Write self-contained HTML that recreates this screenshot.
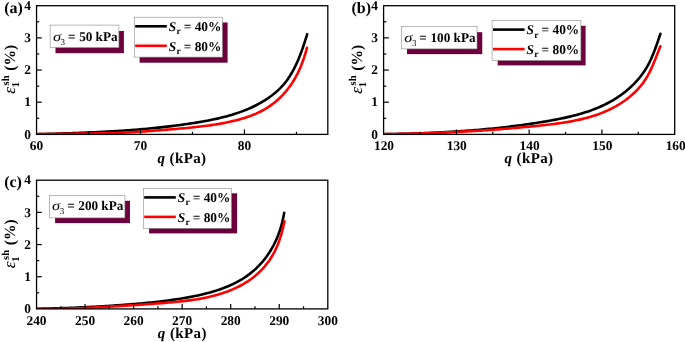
<!DOCTYPE html>
<html><head><meta charset="utf-8"><title>chart</title>
<style>
html,body{margin:0;padding:0;background:#fff;}
svg{display:block;font-family:"Liberation Serif", serif;will-change:transform;}
text{fill:#000;text-rendering:geometricPrecision;}
</style></head>
<body>
<svg width="685" height="342" viewBox="0 0 685 342">
<rect x="0" y="0" width="685" height="342" fill="#fff"/>
<rect x="55.5" y="31.0" width="68.40" height="22.20" fill="#6d003c"/>
<rect x="50.1" y="25.1" width="68.80" height="22.50" fill="#fff" stroke="#8a8a8a" stroke-width="0.6"/>
<text transform="translate(53.00,40.8) scale(1.22,1)" x="0" y="0" font-size="13.5" font-style="italic">σ</text>
<text x="60.60" y="44.70" font-size="9">3</text>
<text x="68.05" y="40.8" font-size="13.2" font-weight="bold">=</text>
<text x="79.20" y="40.8" font-size="13.2" font-weight="bold">50</text>
<text x="95.60" y="40.8" font-size="13.2" font-weight="bold">kPa</text>
<rect x="139.6" y="22.5" width="88.00" height="40.20" fill="#6d003c"/>
<rect x="134.3" y="17.2" width="88.10" height="39.90" fill="#fff" stroke="#8a8a8a" stroke-width="0.6"/>
<line x1="135.20" y1="26.30" x2="166.80" y2="26.30" stroke="#000" stroke-width="2.6"/>
<text x="168.70" y="31.10" font-size="13.4" font-weight="bold" font-style="italic">S</text>
<text x="176.50" y="34.30" font-size="9.5" font-weight="bold">r</text>
<text x="183.70" y="31.10" font-size="13.4" font-weight="bold">= 40%</text>
<line x1="135.20" y1="45.80" x2="166.80" y2="45.80" stroke="#f00" stroke-width="2.6"/>
<text x="168.70" y="50.60" font-size="13.4" font-weight="bold" font-style="italic">S</text>
<text x="176.50" y="53.80" font-size="9.5" font-weight="bold">r</text>
<text x="183.70" y="50.60" font-size="13.4" font-weight="bold">= 80%</text>
<clipPath id="clipa"><rect x="36.55" y="5.7" width="291.25" height="128.70"/></clipPath>
<g clip-path="url(#clipa)">
<polyline points="36.70,134.20 38.95,134.13 41.21,134.07 43.46,134.01 45.71,133.94 47.97,133.88 50.22,133.81 52.47,133.75 54.73,133.68 56.98,133.61 59.24,133.55 61.49,133.48 63.74,133.41 66.00,133.33 68.25,133.26 70.50,133.18 72.76,133.10 75.01,133.03 77.26,132.94 79.52,132.86 81.77,132.77 84.02,132.69 86.27,132.59 88.53,132.50 90.78,132.40 93.03,132.31 95.28,132.20 97.54,132.10 99.79,131.99 102.04,131.88 104.29,131.76 106.54,131.64 108.79,131.52 111.04,131.39 113.30,131.26 115.55,131.13 117.80,130.99 120.05,130.85 122.30,130.70 124.55,130.55 126.79,130.39 129.04,130.23 131.29,130.07 133.54,129.89 135.79,129.72 138.03,129.54 140.28,129.35 142.53,129.16 144.77,128.96 147.02,128.76 149.26,128.55 151.51,128.33 153.75,128.11 155.99,127.88 158.24,127.65 160.48,127.41 162.72,127.16 164.96,126.91 167.20,126.65 169.44,126.38 171.68,126.11 173.91,125.83 176.15,125.54 178.38,125.25 180.62,124.95 182.85,124.64 185.08,124.32 187.31,123.99 189.54,123.66 191.77,123.32 194.00,122.97 196.23,122.61 198.45,122.25 200.67,121.87 202.89,121.48 205.11,121.08 207.33,120.67 209.54,120.24 211.75,119.80 213.96,119.34 216.16,118.86 218.36,118.36 220.56,117.85 222.75,117.31 224.93,116.76 227.11,116.18 229.28,115.57 231.45,114.94 233.60,114.28 235.75,113.60 237.89,112.88 240.02,112.14 242.13,111.37 244.24,110.56 246.33,109.72 248.41,108.85 250.47,107.94 252.52,107.00 254.55,106.02 256.56,105.00 258.55,103.95 260.53,102.86 262.48,101.72 264.40,100.55 266.30,99.34 268.18,98.09 270.02,96.79 271.83,95.45 273.61,94.07 275.36,92.64 277.06,91.17 278.72,89.64 280.33,88.06 281.89,86.44 283.40,84.76 284.85,83.04 286.24,81.26 287.57,79.45 288.85,77.59 290.07,75.70 291.24,73.77 292.37,71.82 293.44,69.84 294.48,67.83 295.48,65.81 296.44,63.77 297.37,61.72 298.26,59.65 299.13,57.57 299.96,55.47 300.78,53.37 301.56,51.26 302.33,49.14 303.07,47.01 303.79,44.87 304.50,42.73 305.19,40.59 305.87,38.44 306.54,36.29 307.20,34.13" fill="none" stroke="#000" stroke-width="2.6" stroke-linecap="round" stroke-linejoin="round"/>
<polyline points="36.70,134.20 38.91,134.17 41.13,134.14 43.34,134.11 45.55,134.08 47.77,134.05 49.98,134.01 52.20,133.98 54.41,133.95 56.62,133.92 58.84,133.89 61.05,133.86 63.26,133.83 65.48,133.80 67.69,133.77 69.90,133.74 72.12,133.71 74.33,133.68 76.54,133.65 78.76,133.62 80.97,133.58 83.19,133.55 85.40,133.52 87.61,133.49 89.83,133.46 92.04,133.43 94.25,133.40 96.47,133.37 98.68,133.34 100.89,133.30 103.11,133.27 105.32,133.23 107.53,133.18 109.75,133.13 111.96,133.07 114.17,133.01 116.39,132.94 118.60,132.86 120.81,132.77 123.02,132.67 125.23,132.57 127.44,132.45 129.65,132.33 131.86,132.21 134.07,132.08 136.28,131.94 138.49,131.80 140.70,131.65 142.91,131.50 145.12,131.34 147.33,131.19 149.53,131.02 151.74,130.86 153.95,130.70 156.16,130.53 158.36,130.36 160.57,130.19 162.78,130.02 164.99,129.85 167.19,129.67 169.40,129.50 171.61,129.32 173.81,129.14 176.02,128.95 178.22,128.76 180.43,128.57 182.63,128.37 184.84,128.17 187.04,127.96 189.25,127.74 191.45,127.52 193.65,127.30 195.85,127.06 198.05,126.82 200.25,126.57 202.45,126.31 204.65,126.03 206.84,125.75 209.04,125.45 211.23,125.14 213.42,124.82 215.60,124.48 217.79,124.12 219.97,123.75 222.15,123.36 224.32,122.95 226.50,122.52 228.66,122.06 230.83,121.59 232.98,121.10 235.14,120.58 237.28,120.03 239.42,119.46 241.55,118.85 243.67,118.22 245.78,117.55 247.88,116.84 249.96,116.10 252.03,115.32 254.08,114.49 256.12,113.62 258.13,112.70 260.12,111.73 262.09,110.72 264.03,109.65 265.94,108.53 267.81,107.36 269.66,106.13 271.47,104.86 273.24,103.53 274.97,102.16 276.67,100.73 278.32,99.26 279.94,97.75 281.51,96.19 283.04,94.60 284.53,92.96 285.98,91.28 287.38,89.57 288.73,87.82 290.04,86.04 291.31,84.22 292.53,82.37 293.70,80.50 294.83,78.59 295.91,76.66 296.95,74.70 297.94,72.73 298.89,70.73 299.80,68.71 300.67,66.68 301.51,64.63 302.30,62.56 303.06,60.48 303.79,58.39 304.48,56.29 305.14,54.18 305.78,52.06 306.40,49.93 307.00,47.80" fill="none" stroke="#f00" stroke-width="2.6" stroke-linecap="round" stroke-linejoin="round"/>
</g>
<rect x="36.55" y="5.7" width="291.25" height="128.70" fill="none" stroke="#000" stroke-width="1.3"/>
<text x="30.85" y="138.60" font-size="13.4" font-weight="bold" text-anchor="end">0</text>
<line x1="36.55" y1="102.22" x2="41.75" y2="102.22" stroke="#000" stroke-width="1.2"/>
<text x="30.85" y="106.42" font-size="13.4" font-weight="bold" text-anchor="end">1</text>
<line x1="36.55" y1="70.05" x2="41.75" y2="70.05" stroke="#000" stroke-width="1.2"/>
<text x="30.85" y="74.25" font-size="13.4" font-weight="bold" text-anchor="end">2</text>
<line x1="36.55" y1="37.88" x2="41.75" y2="37.88" stroke="#000" stroke-width="1.2"/>
<text x="30.85" y="42.08" font-size="13.4" font-weight="bold" text-anchor="end">3</text>
<text x="30.85" y="9.50" font-size="13.4" font-weight="bold" text-anchor="end">4</text>
<line x1="36.55" y1="118.31" x2="39.25" y2="118.31" stroke="#000" stroke-width="1.2"/>
<line x1="36.55" y1="86.14" x2="39.25" y2="86.14" stroke="#000" stroke-width="1.2"/>
<line x1="36.55" y1="53.96" x2="39.25" y2="53.96" stroke="#000" stroke-width="1.2"/>
<line x1="36.55" y1="21.79" x2="39.25" y2="21.79" stroke="#000" stroke-width="1.2"/>
<text x="36.45" y="150.10" font-size="13.4" font-weight="bold" text-anchor="middle">60</text>
<line x1="140.45" y1="134.4" x2="140.45" y2="129.4" stroke="#000" stroke-width="1.2"/>
<text x="140.45" y="150.10" font-size="13.4" font-weight="bold" text-anchor="middle">70</text>
<line x1="244.45" y1="134.4" x2="244.45" y2="129.4" stroke="#000" stroke-width="1.2"/>
<text x="244.45" y="150.10" font-size="13.4" font-weight="bold" text-anchor="middle">80</text>
<line x1="88.45" y1="134.4" x2="88.45" y2="131.8" stroke="#000" stroke-width="1.2"/>
<line x1="192.45" y1="134.4" x2="192.45" y2="131.8" stroke="#000" stroke-width="1.2"/>
<line x1="296.45" y1="134.4" x2="296.45" y2="131.8" stroke="#000" stroke-width="1.2"/>
<text x="4.2" y="13.2" font-size="16" font-weight="bold">(a)</text>
<text x="182.0" y="162.5" font-size="15" font-weight="bold" text-anchor="middle" letter-spacing="0.4"><tspan font-style="italic">q</tspan> (kPa)</text>
<g transform="translate(15.35,94.0) rotate(-90)" font-weight="bold"><text x="0.3" y="0" font-size="17" font-style="italic" font-weight="normal">ε</text><text x="6.8" y="3.5" font-size="10.5">1</text><text x="8.6" y="-6.6" font-size="10.5">sh</text><text x="23.3" y="0" font-size="15.5">(%)</text></g>
<rect x="407.0" y="32.2" width="75.25" height="21.95" fill="#6d003c"/>
<rect x="401.5" y="26.6" width="75.50" height="22.30" fill="#fff" stroke="#8a8a8a" stroke-width="0.6"/>
<text transform="translate(404.30,42.0) scale(1.22,1)" x="0" y="0" font-size="13.5" font-style="italic">σ</text>
<text x="411.90" y="45.90" font-size="9">3</text>
<text x="419.35" y="42.0" font-size="13.2" font-weight="bold">=</text>
<text x="430.50" y="42.0" font-size="13.2" font-weight="bold">100</text>
<text x="453.55" y="42.0" font-size="13.2" font-weight="bold">kPa</text>
<rect x="497.7" y="25.8" width="87.90" height="39.60" fill="#6d003c"/>
<rect x="492.1" y="20.5" width="88.80" height="40.00" fill="#fff" stroke="#8a8a8a" stroke-width="0.6"/>
<line x1="493.00" y1="29.60" x2="524.60" y2="29.60" stroke="#000" stroke-width="2.6"/>
<text x="526.50" y="34.40" font-size="13.4" font-weight="bold" font-style="italic">S</text>
<text x="534.30" y="37.60" font-size="9.5" font-weight="bold">r</text>
<text x="541.50" y="34.40" font-size="13.4" font-weight="bold">= 40%</text>
<line x1="493.00" y1="49.10" x2="524.60" y2="49.10" stroke="#f00" stroke-width="2.6"/>
<text x="526.50" y="53.90" font-size="13.4" font-weight="bold" font-style="italic">S</text>
<text x="534.30" y="57.10" font-size="9.5" font-weight="bold">r</text>
<text x="541.50" y="53.90" font-size="13.4" font-weight="bold">= 80%</text>
<clipPath id="clipb"><rect x="383.6" y="5.7" width="291.10" height="128.70"/></clipPath>
<g clip-path="url(#clipb)">
<polyline points="383.70,134.20 385.98,134.17 388.27,134.13 390.55,134.09 392.84,134.05 395.12,134.01 397.40,133.96 399.69,133.91 401.97,133.86 404.25,133.81 406.54,133.75 408.82,133.68 411.11,133.62 413.39,133.55 415.67,133.47 417.95,133.40 420.24,133.32 422.52,133.23 424.80,133.15 427.09,133.05 429.37,132.96 431.65,132.86 433.93,132.76 436.21,132.65 438.50,132.54 440.78,132.42 443.06,132.30 445.34,132.17 447.62,132.04 449.90,131.91 452.18,131.77 454.46,131.63 456.74,131.48 459.02,131.33 461.30,131.17 463.58,131.01 465.85,130.84 468.13,130.67 470.41,130.50 472.69,130.31 474.96,130.13 477.24,129.94 479.52,129.74 481.79,129.54 484.07,129.33 486.34,129.11 488.61,128.90 490.89,128.67 493.16,128.44 495.43,128.20 497.70,127.96 499.97,127.72 502.24,127.46 504.51,127.20 506.78,126.94 509.05,126.67 511.32,126.39 513.59,126.11 515.85,125.82 518.12,125.53 520.38,125.23 522.64,124.92 524.91,124.60 527.17,124.28 529.43,123.96 531.69,123.62 533.95,123.29 536.21,122.94 538.46,122.59 540.72,122.23 542.97,121.86 545.23,121.49 547.48,121.10 549.73,120.71 551.98,120.31 554.23,119.90 556.47,119.47 558.71,119.04 560.95,118.59 563.19,118.12 565.42,117.64 567.65,117.14 569.87,116.62 572.09,116.08 574.31,115.52 576.52,114.94 578.72,114.33 580.91,113.70 583.10,113.04 585.28,112.36 587.45,111.65 589.61,110.91 591.76,110.13 593.90,109.33 596.02,108.49 598.14,107.63 600.23,106.72 602.32,105.78 604.38,104.80 606.43,103.79 608.45,102.74 610.46,101.64 612.44,100.51 614.40,99.34 616.34,98.13 618.25,96.88 620.14,95.59 621.99,94.26 623.82,92.88 625.61,91.47 627.37,90.02 629.10,88.53 630.80,86.99 632.45,85.42 634.07,83.81 635.65,82.16 637.19,80.47 638.68,78.74 640.12,76.97 641.52,75.17 642.87,73.32 644.16,71.44 645.41,69.53 646.60,67.58 647.73,65.59 648.81,63.58 649.85,61.55 650.83,59.49 651.77,57.40 652.67,55.30 653.54,53.19 654.37,51.06 655.17,48.93 655.96,46.78 656.72,44.63 657.47,42.47 658.21,40.31 658.94,38.14 659.66,35.98 660.39,33.81" fill="none" stroke="#000" stroke-width="2.6" stroke-linecap="round" stroke-linejoin="round"/>
<polyline points="383.70,134.19 385.94,134.16 388.19,134.12 390.44,134.08 392.68,134.04 394.93,134.00 397.17,133.96 399.42,133.91 401.67,133.86 403.91,133.81 406.16,133.76 408.40,133.70 410.65,133.65 412.89,133.59 415.14,133.53 417.39,133.46 419.63,133.40 421.88,133.33 424.12,133.26 426.37,133.18 428.61,133.11 430.86,133.03 433.10,132.95 435.35,132.86 437.59,132.78 439.84,132.69 442.08,132.60 444.33,132.50 446.57,132.40 448.81,132.30 451.06,132.20 453.30,132.09 455.55,131.99 457.79,131.87 460.03,131.76 462.28,131.64 464.52,131.52 466.76,131.40 469.00,131.27 471.25,131.14 473.49,131.01 475.73,130.88 477.97,130.74 480.22,130.60 482.46,130.45 484.70,130.30 486.94,130.15 489.18,130.00 491.42,129.84 493.66,129.68 495.90,129.51 498.14,129.34 500.38,129.17 502.62,129.00 504.86,128.82 507.10,128.64 509.34,128.45 511.58,128.26 513.82,128.07 516.05,127.88 518.29,127.68 520.53,127.47 522.77,127.27 525.00,127.06 527.24,126.84 529.47,126.63 531.71,126.41 533.94,126.18 536.18,125.95 538.41,125.72 540.65,125.48 542.88,125.24 545.11,124.99 547.35,124.74 549.58,124.48 551.81,124.21 554.04,123.93 556.26,123.64 558.49,123.34 560.71,123.03 562.94,122.70 565.16,122.35 567.37,121.99 569.59,121.61 571.80,121.21 574.00,120.79 576.21,120.35 578.40,119.89 580.59,119.39 582.78,118.88 584.96,118.33 587.13,117.76 589.30,117.16 591.45,116.52 593.59,115.85 595.73,115.15 597.85,114.42 599.96,113.65 602.06,112.84 604.14,111.99 606.20,111.10 608.25,110.18 610.27,109.21 612.28,108.21 614.27,107.16 616.23,106.07 618.17,104.94 620.08,103.76 621.97,102.54 623.83,101.28 625.66,99.98 627.45,98.63 629.22,97.24 630.94,95.80 632.63,94.32 634.28,92.79 635.89,91.22 637.45,89.61 638.96,87.95 640.42,86.24 641.83,84.49 643.18,82.70 644.47,80.86 645.70,78.98 646.88,77.07 648.00,75.12 649.07,73.15 650.08,71.14 651.05,69.12 651.99,67.08 652.89,65.02 653.76,62.95 654.61,60.87 655.45,58.78 656.27,56.70 657.09,54.60 657.91,52.51 658.72,50.42 659.54,48.32 660.35,46.23" fill="none" stroke="#f00" stroke-width="2.6" stroke-linecap="round" stroke-linejoin="round"/>
</g>
<rect x="383.6" y="5.7" width="291.10" height="128.70" fill="none" stroke="#000" stroke-width="1.3"/>
<text x="377.90" y="138.60" font-size="13.4" font-weight="bold" text-anchor="end">0</text>
<line x1="383.6" y1="102.22" x2="388.8" y2="102.22" stroke="#000" stroke-width="1.2"/>
<text x="377.90" y="106.42" font-size="13.4" font-weight="bold" text-anchor="end">1</text>
<line x1="383.6" y1="70.05" x2="388.8" y2="70.05" stroke="#000" stroke-width="1.2"/>
<text x="377.90" y="74.25" font-size="13.4" font-weight="bold" text-anchor="end">2</text>
<line x1="383.6" y1="37.88" x2="388.8" y2="37.88" stroke="#000" stroke-width="1.2"/>
<text x="377.90" y="42.08" font-size="13.4" font-weight="bold" text-anchor="end">3</text>
<text x="377.90" y="9.50" font-size="13.4" font-weight="bold" text-anchor="end">4</text>
<line x1="383.6" y1="118.31" x2="386.3" y2="118.31" stroke="#000" stroke-width="1.2"/>
<line x1="383.6" y1="86.14" x2="386.3" y2="86.14" stroke="#000" stroke-width="1.2"/>
<line x1="383.6" y1="53.96" x2="386.3" y2="53.96" stroke="#000" stroke-width="1.2"/>
<line x1="383.6" y1="21.79" x2="386.3" y2="21.79" stroke="#000" stroke-width="1.2"/>
<text x="384.00" y="150.10" font-size="13.4" font-weight="bold" text-anchor="middle">120</text>
<line x1="456.38" y1="134.4" x2="456.38" y2="129.4" stroke="#000" stroke-width="1.2"/>
<text x="456.77" y="150.10" font-size="13.4" font-weight="bold" text-anchor="middle">130</text>
<line x1="529.15" y1="134.4" x2="529.15" y2="129.4" stroke="#000" stroke-width="1.2"/>
<text x="529.55" y="150.10" font-size="13.4" font-weight="bold" text-anchor="middle">140</text>
<line x1="601.92" y1="134.4" x2="601.92" y2="129.4" stroke="#000" stroke-width="1.2"/>
<text x="602.32" y="150.10" font-size="13.4" font-weight="bold" text-anchor="middle">150</text>
<text x="675.70" y="150.10" font-size="13.4" font-weight="bold" text-anchor="middle">160</text>
<line x1="419.99" y1="134.4" x2="419.99" y2="131.8" stroke="#000" stroke-width="1.2"/>
<line x1="492.76" y1="134.4" x2="492.76" y2="131.8" stroke="#000" stroke-width="1.2"/>
<line x1="565.54" y1="134.4" x2="565.54" y2="131.8" stroke="#000" stroke-width="1.2"/>
<line x1="638.31" y1="134.4" x2="638.31" y2="131.8" stroke="#000" stroke-width="1.2"/>
<text x="351.5" y="13.2" font-size="16" font-weight="bold">(b)</text>
<text x="529.0" y="162.5" font-size="15" font-weight="bold" text-anchor="middle" letter-spacing="0.4"><tspan font-style="italic">q</tspan> (kPa)</text>
<g transform="translate(362.40,94.0) rotate(-90)" font-weight="bold"><text x="0.3" y="0" font-size="17" font-style="italic" font-weight="normal">ε</text><text x="6.8" y="3.5" font-size="10.5">1</text><text x="8.6" y="-6.6" font-size="10.5">sh</text><text x="23.3" y="0" font-size="15.5">(%)</text></g>
<rect x="55.1" y="200.8" width="74.85" height="22.30" fill="#6d003c"/>
<rect x="49.7" y="195.3" width="75.20" height="22.60" fill="#fff" stroke="#8a8a8a" stroke-width="0.6"/>
<text transform="translate(52.10,210.1) scale(1.22,1)" x="0" y="0" font-size="13.5" font-style="italic">σ</text>
<text x="59.70" y="214.00" font-size="9">3</text>
<text x="67.15" y="210.1" font-size="13.2" font-weight="bold">=</text>
<text x="78.30" y="210.1" font-size="13.2" font-weight="bold">200</text>
<text x="101.35" y="210.1" font-size="13.2" font-weight="bold">kPa</text>
<rect x="149.1" y="193.3" width="88.00" height="40.10" fill="#6d003c"/>
<rect x="143.3" y="188.3" width="88.15" height="40.00" fill="#fff" stroke="#8a8a8a" stroke-width="0.6"/>
<line x1="144.20" y1="197.40" x2="175.80" y2="197.40" stroke="#000" stroke-width="2.6"/>
<text x="177.70" y="202.20" font-size="13.4" font-weight="bold" font-style="italic">S</text>
<text x="185.50" y="205.40" font-size="9.5" font-weight="bold">r</text>
<text x="192.70" y="202.20" font-size="13.4" font-weight="bold">= 40%</text>
<line x1="144.20" y1="216.90" x2="175.80" y2="216.90" stroke="#f00" stroke-width="2.6"/>
<text x="177.70" y="221.70" font-size="13.4" font-weight="bold" font-style="italic">S</text>
<text x="185.50" y="224.90" font-size="9.5" font-weight="bold">r</text>
<text x="192.70" y="221.70" font-size="13.4" font-weight="bold">= 80%</text>
<clipPath id="clipc"><rect x="36.55" y="180.2" width="291.25" height="128.70"/></clipPath>
<g clip-path="url(#clipc)">
<polyline points="36.70,308.75 38.79,308.72 40.88,308.68 42.97,308.64 45.06,308.60 47.14,308.56 49.23,308.51 51.32,308.46 53.41,308.40 55.50,308.35 57.59,308.29 59.67,308.22 61.76,308.15 63.85,308.08 65.94,308.01 68.03,307.93 70.11,307.86 72.20,307.77 74.29,307.69 76.37,307.60 78.46,307.51 80.55,307.41 82.64,307.32 84.72,307.22 86.81,307.11 88.89,307.01 90.98,306.90 93.07,306.79 95.15,306.68 97.24,306.56 99.32,306.44 101.41,306.32 103.50,306.20 105.58,306.07 107.67,305.94 109.75,305.81 111.84,305.68 113.92,305.54 116.00,305.40 118.09,305.26 120.17,305.12 122.26,304.97 124.34,304.82 126.42,304.66 128.51,304.50 130.59,304.34 132.67,304.17 134.75,304.00 136.84,303.82 138.92,303.64 141.00,303.46 143.08,303.27 145.16,303.07 147.24,302.86 149.31,302.66 151.39,302.44 153.47,302.22 155.55,301.99 157.62,301.76 159.70,301.51 161.77,301.26 163.84,301.01 165.92,300.74 167.99,300.47 170.06,300.19 172.13,299.90 174.19,299.60 176.26,299.30 178.33,298.98 180.39,298.66 182.45,298.33 184.51,297.98 186.57,297.63 188.63,297.26 190.68,296.88 192.73,296.49 194.78,296.09 196.83,295.66 198.87,295.23 200.91,294.77 202.94,294.30 204.97,293.80 207.00,293.29 209.02,292.75 211.03,292.19 213.04,291.61 215.03,291.00 217.02,290.37 219.01,289.71 220.98,289.02 222.94,288.31 224.89,287.56 226.83,286.78 228.76,285.97 230.67,285.13 232.56,284.26 234.44,283.35 236.30,282.40 238.15,281.41 239.97,280.39 241.77,279.33 243.54,278.23 245.29,277.08 247.01,275.90 248.70,274.67 250.36,273.40 251.99,272.10 253.58,270.75 255.14,269.36 256.66,267.93 258.15,266.46 259.60,264.96 261.01,263.42 262.39,261.85 263.72,260.24 265.02,258.61 266.28,256.94 267.50,255.25 268.68,253.52 269.82,251.77 270.91,249.99 271.97,248.19 272.98,246.37 273.96,244.52 274.89,242.65 275.78,240.76 276.63,238.85 277.44,236.93 278.21,234.98 278.94,233.03 279.63,231.06 280.28,229.07 280.89,227.07 281.46,225.07 282.00,223.05 282.49,221.02 282.96,218.98 283.39,216.94 283.80,214.89 284.20,212.84" fill="none" stroke="#000" stroke-width="2.6" stroke-linecap="round" stroke-linejoin="round"/>
<polyline points="36.70,308.74 38.77,308.80 40.83,308.84 42.90,308.88 44.97,308.91 47.03,308.94 49.10,308.95 51.17,308.95 53.24,308.95 55.30,308.93 57.37,308.91 59.44,308.88 61.50,308.84 63.57,308.80 65.64,308.74 67.70,308.68 69.77,308.62 71.83,308.54 73.90,308.46 75.97,308.38 78.03,308.29 80.10,308.20 82.16,308.10 84.22,308.00 86.29,307.89 88.35,307.78 90.42,307.67 92.48,307.55 94.55,307.44 96.61,307.32 98.67,307.20 100.74,307.08 102.80,306.95 104.86,306.83 106.93,306.71 108.99,306.58 111.05,306.46 113.12,306.34 115.18,306.22 117.24,306.09 119.31,305.97 121.37,305.85 123.43,305.72 125.50,305.60 127.56,305.48 129.62,305.35 131.69,305.23 133.75,305.10 135.81,304.97 137.88,304.84 139.94,304.71 142.00,304.58 144.07,304.44 146.13,304.31 148.19,304.16 150.25,304.02 152.31,303.87 154.38,303.72 156.44,303.57 158.50,303.41 160.56,303.25 162.62,303.08 164.68,302.91 166.74,302.73 168.80,302.55 170.86,302.37 172.91,302.17 174.97,301.98 177.03,301.77 179.09,301.56 181.14,301.34 183.20,301.12 185.25,300.88 187.30,300.64 189.35,300.38 191.40,300.11 193.45,299.82 195.49,299.52 197.54,299.20 199.57,298.86 201.61,298.49 203.64,298.10 205.66,297.69 207.68,297.25 209.70,296.79 211.71,296.30 213.71,295.79 215.70,295.25 217.69,294.68 219.67,294.09 221.64,293.47 223.60,292.82 225.56,292.14 227.50,291.43 229.43,290.69 231.34,289.91 233.25,289.11 235.14,288.27 237.01,287.39 238.86,286.47 240.69,285.52 242.51,284.53 244.30,283.49 246.06,282.42 247.80,281.30 249.51,280.14 251.19,278.94 252.84,277.70 254.46,276.41 256.04,275.09 257.59,273.72 259.11,272.31 260.58,270.86 262.02,269.38 263.42,267.85 264.77,266.30 266.09,264.70 267.36,263.07 268.59,261.41 269.77,259.72 270.91,257.99 272.00,256.23 273.04,254.45 274.03,252.64 274.98,250.80 275.88,248.94 276.74,247.06 277.55,245.16 278.31,243.24 279.04,241.30 279.72,239.35 280.37,237.39 280.97,235.41 281.55,233.43 282.09,231.43 282.60,229.43 283.08,227.42 283.53,225.40 283.97,223.38 284.39,221.36" fill="none" stroke="#f00" stroke-width="2.6" stroke-linecap="round" stroke-linejoin="round"/>
</g>
<rect x="36.55" y="180.2" width="291.25" height="128.70" fill="none" stroke="#000" stroke-width="1.3"/>
<text x="30.85" y="313.10" font-size="13.4" font-weight="bold" text-anchor="end">0</text>
<line x1="36.55" y1="276.72" x2="41.75" y2="276.72" stroke="#000" stroke-width="1.2"/>
<text x="30.85" y="280.92" font-size="13.4" font-weight="bold" text-anchor="end">1</text>
<line x1="36.55" y1="244.55" x2="41.75" y2="244.55" stroke="#000" stroke-width="1.2"/>
<text x="30.85" y="248.75" font-size="13.4" font-weight="bold" text-anchor="end">2</text>
<line x1="36.55" y1="212.38" x2="41.75" y2="212.38" stroke="#000" stroke-width="1.2"/>
<text x="30.85" y="216.57" font-size="13.4" font-weight="bold" text-anchor="end">3</text>
<text x="30.85" y="184.00" font-size="13.4" font-weight="bold" text-anchor="end">4</text>
<line x1="36.55" y1="292.81" x2="39.25" y2="292.81" stroke="#000" stroke-width="1.2"/>
<line x1="36.55" y1="260.64" x2="39.25" y2="260.64" stroke="#000" stroke-width="1.2"/>
<line x1="36.55" y1="228.46" x2="39.25" y2="228.46" stroke="#000" stroke-width="1.2"/>
<line x1="36.55" y1="196.29" x2="39.25" y2="196.29" stroke="#000" stroke-width="1.2"/>
<text x="36.50" y="325.05" font-size="13.4" font-weight="bold" text-anchor="middle">240</text>
<line x1="85.05" y1="308.9" x2="85.05" y2="303.9" stroke="#000" stroke-width="1.2"/>
<text x="85.05" y="325.05" font-size="13.4" font-weight="bold" text-anchor="middle">250</text>
<line x1="133.60" y1="308.9" x2="133.60" y2="303.9" stroke="#000" stroke-width="1.2"/>
<text x="133.60" y="325.05" font-size="13.4" font-weight="bold" text-anchor="middle">260</text>
<line x1="182.15" y1="308.9" x2="182.15" y2="303.9" stroke="#000" stroke-width="1.2"/>
<text x="182.15" y="325.05" font-size="13.4" font-weight="bold" text-anchor="middle">270</text>
<line x1="230.70" y1="308.9" x2="230.70" y2="303.9" stroke="#000" stroke-width="1.2"/>
<text x="230.70" y="325.05" font-size="13.4" font-weight="bold" text-anchor="middle">280</text>
<line x1="279.25" y1="308.9" x2="279.25" y2="303.9" stroke="#000" stroke-width="1.2"/>
<text x="279.25" y="325.05" font-size="13.4" font-weight="bold" text-anchor="middle">290</text>
<text x="327.80" y="325.05" font-size="13.4" font-weight="bold" text-anchor="middle">300</text>
<line x1="60.78" y1="308.9" x2="60.78" y2="306.29999999999995" stroke="#000" stroke-width="1.2"/>
<line x1="109.33" y1="308.9" x2="109.33" y2="306.29999999999995" stroke="#000" stroke-width="1.2"/>
<line x1="157.88" y1="308.9" x2="157.88" y2="306.29999999999995" stroke="#000" stroke-width="1.2"/>
<line x1="206.43" y1="308.9" x2="206.43" y2="306.29999999999995" stroke="#000" stroke-width="1.2"/>
<line x1="254.98" y1="308.9" x2="254.98" y2="306.29999999999995" stroke="#000" stroke-width="1.2"/>
<line x1="303.53" y1="308.9" x2="303.53" y2="306.29999999999995" stroke="#000" stroke-width="1.2"/>
<text x="4.2" y="187.4" font-size="16" font-weight="bold">(c)</text>
<text x="182.4" y="337.8" font-size="15" font-weight="bold" text-anchor="middle" letter-spacing="0.4"><tspan font-style="italic">q</tspan> (kPa)</text>
<g transform="translate(15.35,268.5) rotate(-90)" font-weight="bold"><text x="0.3" y="0" font-size="17" font-style="italic" font-weight="normal">ε</text><text x="6.8" y="3.5" font-size="10.5">1</text><text x="8.6" y="-6.6" font-size="10.5">sh</text><text x="23.3" y="0" font-size="15.5">(%)</text></g>
</svg>
</body></html>
